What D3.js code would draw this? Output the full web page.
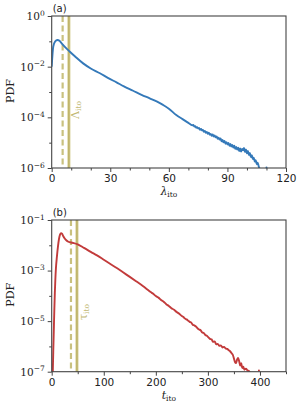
<!DOCTYPE html>
<html>
<head>
<meta charset="utf-8">
<script src="https://cdn.jsdelivr.net/npm/d3@7"></script>
<style>
  body { margin: 0; background: #fff; }
  svg text { fill: #222; }
</style>
</head>
<body>
<svg id="chart" width="300" height="410"></svg>
<script>
// panel (a): PDF of lambda_ito, values stored as log10(PDF)
const lambdaX = [0, 0.8, 1.8, 2.9, 4, 5.1, 7, 9.3, 12, 16.1, 20, 24.7, 29, 33.2, 37, 41.7, 46, 50.2, 54, 57, 60, 63.8, 67, 70,
  72, 72.5, 73, 73.5, 74, 74.5, 75, 75.5, 76, 76.5, 77, 77.5, 78, 78.5, 79, 79.5, 80, 80.5, 81, 81.5, 82, 82.5,
  83, 83.5, 84, 84.5, 85, 85.5, 86, 86.5, 87, 87.5, 88, 88.5, 89, 89.5, 90, 90.5, 91, 91.5, 92, 92.5, 93, 93.5,
  94, 94.5, 95, 95.5, 96, 96.5, 97, 97.5, 98, 98.5, 99, 99.5, 100, 100.5, 101, 101.5, 102, 102.5, 103, 103.5,
  104, 104.5, 105, 105.5, 106, 106.6];
const lambdaLogPdf = [-2.0, -1.21, -1.0, -0.95, -0.98, -1.08, -1.24, -1.41, -1.6, -1.87, -2.07, -2.26, -2.45, -2.62, -2.78, -2.95, -3.11, -3.25, -3.38, -3.51, -3.66, -3.91, -4.07, -4.22,
  -4.31, -4.30, -4.36, -4.35, -4.41, -4.39, -4.44, -4.42, -4.49, -4.46, -4.52, -4.50, -4.57, -4.54, -4.61, -4.58, -4.65, -4.61, -4.69, -4.66, -4.73, -4.68,
  -4.76, -4.72, -4.79, -4.75, -4.85, -4.80, -4.88, -4.83, -4.95, -4.89, -4.99, -4.93, -5.04, -4.98, -5.07, -5.01, -5.12, -5.05, -5.15, -5.09,
  -5.19, -5.12, -5.24, -5.17, -5.27, -5.20, -5.33, -5.23, -5.35, -5.25, -5.30, -5.21, -5.37, -5.27, -5.42, -5.33, -5.49, -5.41, -5.57, -5.49,
  -5.65, -5.59, -5.75, -5.69, -5.85, -5.79, -5.93, -6.05];
const lambdaDots = [[110, -5.98]];
const lambdaDashed = 5.6;   // dashed marker
const lambdaIto = 8.8;      // solid marker, Λ_ito

// panel (b): PDF of t_ito, values stored as log10(PDF)
const tX = [2, 3, 4, 5, 6, 7, 8, 10, 12, 14, 16, 18, 20, 22, 25, 28, 32, 40, 50, 62, 75, 87, 100, 112, 125, 137, 150, 162, 175, 185,
  190, 195, 200, 205, 210, 215, 220, 225, 230, 235, 240, 245, 250, 253, 256, 259, 262, 265, 268, 271, 274, 277, 280, 283,
  286, 289, 292, 295, 298, 301, 304, 307, 310, 313, 316, 319, 322, 325, 328, 331, 334, 337, 340, 343, 346, 348, 350, 352,
  354, 356, 358, 360, 362, 364, 366, 368, 370, 373, 376, 379, 381];
const tLogPdf = [-7.1, -6.2, -5.4, -4.6, -3.9, -3.35, -2.95, -2.45, -2.05, -1.75, -1.58, -1.52, -1.55, -1.63, -1.73, -1.80, -1.86, -1.90, -1.96, -2.1, -2.26, -2.4, -2.57, -2.73, -2.9, -3.07, -3.25, -3.42, -3.61, -3.77,
  -3.85, -3.92, -4.01, -4.07, -4.16, -4.23, -4.33, -4.40, -4.49, -4.55, -4.64, -4.71, -4.80, -4.84, -4.90, -4.93, -4.98, -5.03, -5.06, -5.14, -5.17, -5.21, -5.28, -5.33,
  -5.36, -5.45, -5.47, -5.55, -5.58, -5.64, -5.70, -5.72, -5.82, -5.80, -5.92, -5.90, -5.98, -5.96, -6.04, -6.02, -6.08, -6.10, -6.15, -6.20, -6.28, -6.34, -6.48, -6.62,
  -6.66, -6.52, -6.46, -6.58, -6.76, -6.66, -6.86, -6.80, -6.92, -6.88, -6.95, -6.97, -7.05];
const tDots = [[398, -6.95]];
const tDashed = 37;
const tIto = 48.5;

const svg = d3.select('#chart');
const left = 51.7, right = 286;

function superscriptTicks(axisG) {
  axisG.selectAll('.tick text').each(function (d) {
    const e = Math.round(Math.log10(d));
    const t = d3.select(this).text('');
    t.append('tspan').text('10');
    t.append('tspan').attr('dy', '-0.55em').attr('font-size', '7.5px').text(e < 0 ? '\u2212' + (-e) : e);
  });
}

function panel(cfg) {
  const x = d3.scaleLinear().domain(cfg.xDomain).range([left, right]);
  const y = d3.scaleLog().domain(cfg.yDomain).range([cfg.bottom, cfg.top]);
  const g = svg.append('g');

  const clipId = 'clip' + cfg.tag;
  svg.append('clipPath').attr('id', clipId)
    .append('rect').attr('x', left).attr('y', cfg.top).attr('width', right - left).attr('height', cfg.bottom - cfg.top);

  // marker lines
  g.append('line')
    .attr('x1', x(cfg.dashed)).attr('x2', x(cfg.dashed)).attr('y1', cfg.top).attr('y2', cfg.bottom)
    .attr('stroke', '#c9c17f').attr('stroke-width', 2.2).attr('stroke-dasharray', '6,3.5');
  g.append('line')
    .attr('x1', x(cfg.solid)).attr('x2', x(cfg.solid)).attr('y1', cfg.top).attr('y2', cfg.bottom)
    .attr('stroke', '#dcd6a4').attr('stroke-width', 3.2);
  g.append('line')
    .attr('x1', x(cfg.solid)).attr('x2', x(cfg.solid)).attr('y1', cfg.top).attr('y2', cfg.bottom)
    .attr('stroke', '#bdb266').attr('stroke-width', 1.6);

  const marker = g.append('text')
    .attr('transform', `translate(${x(cfg.solid) + 10},${cfg.labelY}) rotate(-90)`)
    .attr('text-anchor', 'middle')
    .attr('font-family', 'DejaVu Serif').attr('font-size', '11px')
    .style('fill', '#c2b973');
  marker.append('tspan').text(cfg.markerName);
  marker.append('tspan').attr('dy', '0.3em').attr('font-size', '7.5px').text('ito');

  // curve
  const pts = cfg.xs.map((v, i) => [v, cfg.logs[i]]);
  const line = d3.line()
    .x(d => x(d[0]))
    .y(d => y(Math.pow(10, d[1])))
    .curve(d3.curveMonotoneX);
  g.append('path')
    .datum(pts)
    .attr('clip-path', `url(#${clipId})`)
    .attr('d', line)
    .attr('fill', 'none')
    .attr('stroke', cfg.color)
    .attr('stroke-width', 1.9);
  g.selectAll('circle.dot' + cfg.tag)
    .data(cfg.dots)
    .enter().append('circle')
    .attr('cx', d => x(d[0]))
    .attr('cy', d => y(Math.pow(10, d[1])))
    .attr('r', 1)
    .attr('fill', cfg.color);

  // frame
  g.append('rect')
    .attr('x', left).attr('y', cfg.top).attr('width', right - left).attr('height', cfg.bottom - cfg.top)
    .attr('fill', 'none').attr('stroke', '#444').attr('stroke-width', 1.1);

  // axes
  const xMinor = g.append('g').attr('transform', `translate(0,${cfg.bottom})`)
    .call(d3.axisBottom(x).tickValues(cfg.xMinor).tickSize(2.5).tickFormat(''));
  const xMajor = g.append('g').attr('transform', `translate(0,${cfg.bottom})`)
    .call(d3.axisBottom(x).tickValues(cfg.xTicks).tickSize(4).tickPadding(3).tickFormat(d3.format('d')));
  xMajor.selectAll('text').attr('font-family', 'DejaVu Sans').attr('font-size', '10.5px');

  const yMinor = g.append('g').attr('transform', `translate(${left},0)`)
    .call(d3.axisLeft(y).tickValues(cfg.yMinor).tickSize(2.5).tickFormat(''));
  const yMajor = g.append('g').attr('transform', `translate(${left},0)`)
    .call(d3.axisLeft(y).tickValues(cfg.yTicks).tickSize(4).tickPadding(3));
  yMajor.selectAll('text').attr('font-family', 'DejaVu Serif').attr('font-size', '10.5px');
  superscriptTicks(yMajor);

  [xMinor, xMajor, yMinor, yMajor].forEach(a => {
    a.select('.domain').remove();
    a.selectAll('line').attr('stroke', '#444');
  });

  // labels
  g.append('text')
    .attr('x', left + 1).attr('y', cfg.top - 4)
    .attr('font-family', 'DejaVu Sans').attr('font-size', '10px')
    .text(cfg.tag === 'a' ? '(a)' : '(b)');

  g.append('text')
    .attr('transform', `translate(14,${(cfg.top + cfg.bottom) / 2 - 1}) rotate(-90)`)
    .attr('text-anchor', 'middle')
    .attr('font-family', 'DejaVu Serif').attr('font-size', '11px')
    .text('PDF');

  const xl = g.append('text')
    .attr('x', (left + right) / 2).attr('y', cfg.bottom + 27)
    .attr('text-anchor', 'middle')
    .attr('font-family', 'DejaVu Serif').attr('font-size', '11px');
  xl.append('tspan').attr('font-style', 'italic').text(cfg.xName);
  xl.append('tspan').attr('dy', '0.3em').attr('font-size', '7.5px').text('ito');
}

panel({
  tag: 'a', top: 16, bottom: 168,
  xDomain: [0, 120], yDomain: [1e-6, 1],
  xTicks: [0, 30, 60, 90, 120], xMinor: [10, 20, 40, 50, 70, 80, 100, 110],
  yTicks: [1, 1e-2, 1e-4, 1e-6], yMinor: [1e-1, 1e-3, 1e-5],
  xs: lambdaX, logs: lambdaLogPdf, dots: lambdaDots,
  dashed: lambdaDashed, solid: lambdaIto, markerName: '\u039B', labelY: 110,
  color: '#3479b9', xName: '\u03BB'
});

panel({
  tag: 'b', top: 220, bottom: 371.7,
  xDomain: [0, 450], yDomain: [1e-7, 1e-1],
  xTicks: [0, 100, 200, 300, 400], xMinor: [50, 150, 250, 350, 450],
  yTicks: [1e-1, 1e-3, 1e-5, 1e-7], yMinor: [1e-2, 1e-4, 1e-6],
  xs: tX, logs: tLogPdf, dots: tDots,
  dashed: tDashed, solid: tIto, markerName: '\u03C4', labelY: 312,
  color: '#c23b3b', xName: 't'
});
</script>
</body>
</html>
